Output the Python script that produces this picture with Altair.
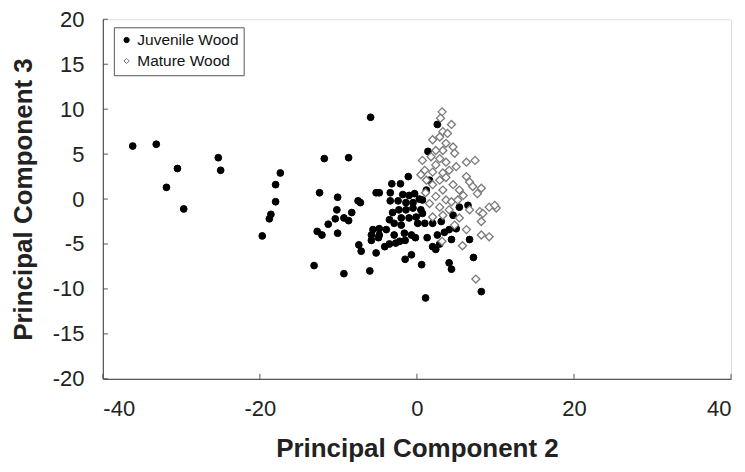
import altair as alt
import pandas as pd

groups = ["Juvenile Wood", "Mature Wood"]

juv_x = [-36.2, -33.2, -30.5, -31.9, -29.7, -25.3, -25.0, -17.4, -18.0, -18.0, -18.6, -18.8, -19.7,
         -11.8, -12.4, -10.1, -10.2, -10.4, -11.3, -12.7, -12.1, -10.1, -13.1, -8.7, -9.3, -8.7, -9.3,
         -5.9, -1.1, -3.2, -2.1, -4.8, -5.2, -3.4, -1.8, -1.0, -0.3, -7.5, -7.2, -3.4, -2.4, -1.4, -0.5,
         0.3, -8.3, -3.1, -2.3, -1.4, -0.5, -2.0, -1.0, -0.1, 0.7, -3.5, -2.9, -2.0, 0.1, 1.0, -4.8,
         -5.6, -3.9, -5.8, -4.8, -2.9, -1.6, -0.7, -4.9, -5.8, -7.4, -7.1, -5.2, -4.1, -3.5, -2.7, -2.2,
         -1.5, -1.5, -0.7, 0.6, -6.0, 1.1, 6.5, 7.2, 8.2, 4.1, 4.4, 6.7, 4.4, 2.6, 2.0, 2.9, 2.4, 5.0,
         4.1, 2.0, 3.1, 4.6, 1.2, 0.7, 0.5, 1.6, 2.6, 1.4, 5.4, -0.2, 1.3, 3.5]
juv_y = [5.9, 6.1, 3.4, 1.3, -1.1, 4.6, 3.2, 2.9, 1.6, -0.3, -1.7, -2.2, -4.1,
         4.5, 0.7, 0.2, -1.2, -2.2, -2.8, -3.6, -4.0, -3.8, -7.4, 4.6, -2.1, -2.4, -8.3,
         9.1, 2.5, 1.7, 1.7, 0.7, 0.7, 0.7, 0.5, 0.4, 0.6, -0.2, -0.4, -0.2, -0.2, -0.4, -0.4,
         0.0, -1.5, -1.5, -1.2, -1.2, -1.0, -2.1, -2.1, -2.0, -1.6, -2.3, -2.7, -2.9, -2.7, -2.7, -3.3,
         -3.4, -3.4, -4.0, -4.0, -4.0, -3.8, -4.0, -4.3, -4.6, -5.1, -5.8, -6.0, -5.3, -5.0, -4.9, -4.7,
         -4.6, -6.7, -6.2, -7.3, -8.0, -11.0, -0.7, -6.5, -10.3, -7.1, -7.8, -4.5, -4.5, -4.0, -5.3, -5.0, -5.6, -3.3,
         -3.4, -2.7, -2.5, -1.8, 1.0, -0.1, -1.2, 2.1, 8.3, 5.3, -0.9, -4.3, -4.3, -3.7]

mat_x = [3.2, 3.0, 4.4, 3.3, 3.9, 2.9, 2.0, 3.7, 4.6, 4.8, 3.3, 2.4, 1.8, 0.7, 2.9, 3.7, 2.4,
         6.3, 7.4, 5.0, 4.1, 3.3, 2.0, 1.0, 0.5, 6.3, 6.7, 7.1, 8.2, 7.7, 5.4, 4.6, 3.7, 2.9,
         2.0, 3.3, 2.4, 3.7, 2.9, 1.6, 4.1, 3.3, 2.0, 9.2, 10.1, 9.9, 8.0, 8.4, 8.2, 6.3, 8.2,
         9.2, 4.4, 5.2, 3.2, 5.8, 7.5, 1.1, 4.8, 5.4, 1.2, 6.7, 5.9]
mat_y = [9.7, 9.0, 8.3, 7.5, 7.3, 6.9, 6.6, 6.2, 5.8, 5.1, 5.4, 5.4, 4.7, 4.3, 4.5, 4.1, 3.8,
         4.1, 4.3, 3.6, 3.2, 2.9, 3.0, 3.2, 2.7, 2.5, 1.9, 1.4, 1.2, 0.6, 1.0, 1.6, 2.4, 2.1,
         1.6, 1.0, 0.3, -0.1, -0.9, -0.5, -1.2, -1.8, -2.0, -0.9, -1.0, -0.7, -1.4, -1.6, -2.5, -3.4, -4.0,
         -4.2, -0.3, -0.1, -4.7, -5.2, -8.9, 0.7, -2.9, -2.1, 2.1, -1.2, 0.4]

x_ticks = [-40, -20, 0, 20, 40]
y_ticks = [-20, -15, -10, -5, 0, 5, 10, 15, 20]

juv = pd.DataFrame({"pc2": juv_x, "pc3": juv_y, "group": groups[0]})
mat = pd.DataFrame({"pc2": mat_x, "pc3": mat_y, "group": groups[1]})

FONT = "Liberation Sans"
HYPHEN = "datum.value < 0 ? '-' + abs(datum.value) : '' + datum.value"

xscale = alt.Scale(domain=[-40, 40], nice=False, zero=False)
yscale = alt.Scale(domain=[-20, 20], nice=False, zero=False)

xaxis = alt.Axis(values=x_ticks, title="Principal Component 2", ticks=False, grid=False,
                 labelExpr=HYPHEN,
                 labelFontSize=22, labelPadding=20, titleFontSize=26, titleFontWeight="bold",
                 titlePadding=16, labelColor="#222", titleColor="#222", labelFont=FONT, titleFont=FONT,
                 domainColor="#555", domainWidth=1.2)
yaxis = alt.Axis(values=y_ticks, title="Principal Component 3", ticks=False, grid=False,
                 labelExpr=HYPHEN,
                 labelFontSize=22, labelPadding=19, titleFontSize=26, titleFontWeight="bold",
                 titlePadding=16, labelColor="#222", titleColor="#222", labelFont=FONT, titleFont=FONT,
                 domainColor="#555", domainWidth=1.2)

shape_enc = alt.Shape("group:N", scale=alt.Scale(domain=groups, range=["circle", "diamond"]),
                      legend=alt.Legend(title=None, orient="none", legendX=11, legendY=8,
                                        labelFont=FONT, labelFontSize=15.5, labelColor="#111",
                                        symbolSize=28, symbolStrokeWidth=1, labelOffset=3,
                                        rowPadding=4, padding=5, strokeColor="#555",
                                        fillColor="white", symbolOffset=0))
fill_enc = alt.Fill("group:N", scale=alt.Scale(domain=groups, range=["black", "white"]), legend=None)
stroke_enc = alt.Stroke("group:N", scale=alt.Scale(domain=groups, range=["black", "#7a7a7a"]), legend=None)

base_x = alt.X("pc2:Q", scale=xscale, axis=xaxis)
base_y = alt.Y("pc3:Q", scale=yscale, axis=yaxis)

juv_layer = alt.Chart(juv).mark_point(filled=False, size=46, strokeWidth=1, opacity=1).encode(
    x=base_x, y=base_y, shape=shape_enc, fill=fill_enc, stroke=stroke_enc)
mat_layer = alt.Chart(mat).mark_point(filled=False, size=64, strokeWidth=1.3, opacity=1).encode(
    x=base_x, y=base_y, shape=shape_enc, fill=fill_enc, stroke=stroke_enc)

yt = alt.Chart(pd.DataFrame({"v": y_ticks})).mark_rule(color="#555", strokeWidth=1).encode(
    y=alt.Y("v:Q", scale=yscale, axis=yaxis), x=alt.value(0), x2=alt.value(5))
xt = alt.Chart(pd.DataFrame({"v": x_ticks})).mark_rule(color="#555", strokeWidth=1).encode(
    x=alt.X("v:Q", scale=xscale, axis=xaxis), y=alt.value(360), y2=alt.value(355))

chart = alt.layer(yt, xt, juv_layer, mat_layer).properties(
    width=629, height=360,
    autosize=alt.AutoSizeParams(type="none"),
    padding={"left": 95, "top": 11, "right": 6, "bottom": 86},
).configure_view(stroke="#aaa", strokeWidth=1).configure(background="white")

chart.save("out.html", embed_options={"renderer": "svg", "actions": False})
